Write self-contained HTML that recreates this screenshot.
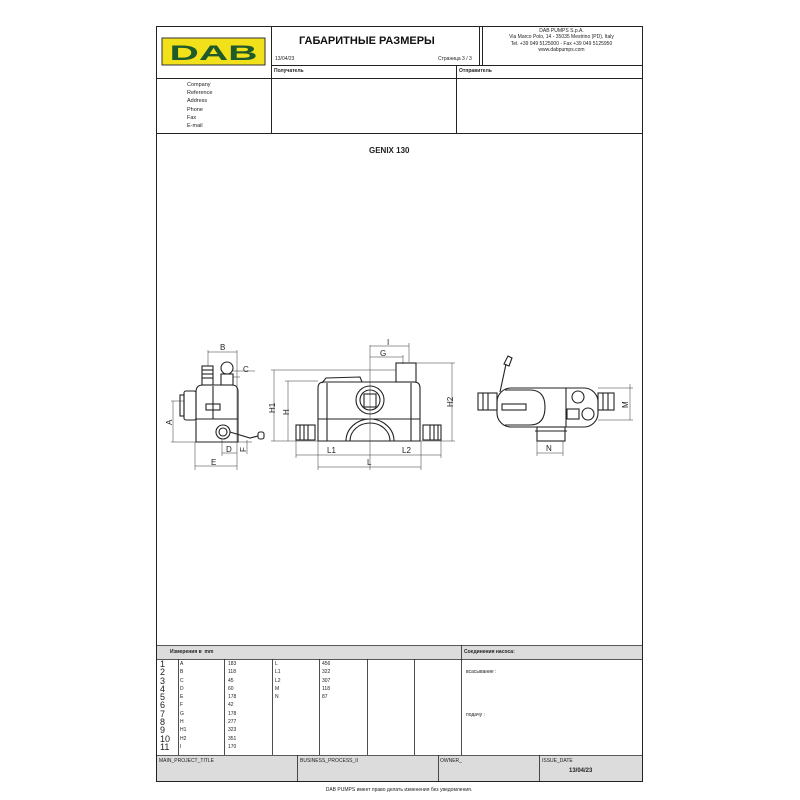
<!DOCTYPE html>
<html><head><meta charset="utf-8"><style>
body{margin:0;background:#fff;width:800px;height:800px;position:relative;font-family:"Liberation Sans","Noto Sans CJK SC",sans-serif;overflow:hidden}
.t{position:absolute;font-size:6px;color:#222;white-space:nowrap}
</style></head><body>
<svg width="800" height="800" style="position:absolute;left:0;top:0" font-family="Liberation Sans, sans-serif">
<g fill="none" stroke="#222" stroke-width="1">
<rect x="156.5" y="26.5" width="486" height="755"/>
<line x1="271.5" y1="26" x2="271.5" y2="133"/>
<line x1="156" y1="78.5" x2="642" y2="78.5"/>
<line x1="271" y1="65.5" x2="642" y2="65.5"/>
<line x1="479.5" y1="26" x2="479.5" y2="65"/>
<line x1="482.5" y1="26" x2="482.5" y2="65"/>
<line x1="456.5" y1="65" x2="456.5" y2="133"/>
<line x1="156" y1="133.5" x2="642" y2="133.5"/>
</g>
<rect x="157" y="646" width="485" height="13" fill="#dcdcdc"/>
<rect x="157" y="756" width="485" height="25" fill="#dcdcdc"/>
<g fill="none" stroke="#222" stroke-width="0.8">
<line x1="156" y1="645.5" x2="642" y2="645.5"/>
<line x1="156" y1="659.5" x2="642" y2="659.5"/>
<line x1="156" y1="755.5" x2="642" y2="755.5"/>
<line x1="461.5" y1="645" x2="461.5" y2="755"/>
<line x1="178.5" y1="659" x2="178.5" y2="755"/>
<line x1="224.5" y1="659" x2="224.5" y2="755"/>
<line x1="272.5" y1="659" x2="272.5" y2="755"/>
<line x1="319.5" y1="659" x2="319.5" y2="755"/>
<line x1="367.5" y1="659" x2="367.5" y2="755"/>
<line x1="414.5" y1="659" x2="414.5" y2="755"/>
<line x1="297.5" y1="755" x2="297.5" y2="781"/>
<line x1="438.5" y1="755" x2="438.5" y2="781"/>
<line x1="539.5" y1="755" x2="539.5" y2="781"/>
</g>
<!-- logo -->
<rect x="162" y="38" width="103" height="27" fill="#f2e01a" stroke="#333" stroke-width="1"/>
<text x="213.5" y="60" font-size="21" font-weight="bold" fill="#1e5a2a" text-anchor="middle" textLength="88" lengthAdjust="spacingAndGlyphs">DAB</text>

<!-- drawings -->
<g fill="none" stroke="#222" stroke-width="1.1">
<!-- left view -->
<path d="M196 442 L196 392 Q196 385 203 385 L232 385 Q238 385 238 392 L238 442 Z"/>
<line x1="196" y1="419" x2="238" y2="419"/>
<rect x="184" y="391" width="12" height="29" rx="2"/>
<rect x="180" y="395" width="4" height="21"/>
<rect x="202" y="366" width="11" height="19"/>
<line x1="202" y1="370" x2="213" y2="370"/><line x1="202" y1="374" x2="213" y2="374"/><line x1="202" y1="378" x2="213" y2="378"/>
<circle cx="227" cy="368" r="6"/>
<rect x="221" y="374" width="12" height="11"/>
<circle cx="223" cy="432" r="7"/><circle cx="223" cy="432" r="4"/>
<path d="M230 432 L250 438 L258 436"/><rect x="258" y="432" width="6" height="7" rx="2"/>
<line x1="213" y1="386" x2="213" y2="419"/>
<rect x="206" y="404" width="14" height="6"/>
<!-- front view -->
<path d="M318 441 L318 388 Q318 382 324 382 L414 382 Q420 382 420 388 L420 441 Z"/>
<line x1="318" y1="419" x2="420" y2="419"/>
<path d="M346 441 A24 22 0 0 1 394 441"/>
<path d="M350 441 A20 18 0 0 1 390 441"/>
<circle cx="370" cy="400" r="14"/><circle cx="370" cy="400" r="10"/>
<rect x="364" y="394" width="12" height="13"/>
<rect x="396" y="363" width="20" height="19"/>
<rect x="296" y="425" width="19" height="15"/><rect x="423" y="425" width="18" height="15"/>
<line x1="300" y1="425" x2="300" y2="440"/><line x1="304" y1="425" x2="304" y2="440"/><line x1="308" y1="425" x2="308" y2="440"/>
<line x1="430" y1="425" x2="430" y2="440"/><line x1="434" y1="425" x2="434" y2="440"/><line x1="438" y1="425" x2="438" y2="440"/>
<line x1="327" y1="383" x2="327" y2="441"/><line x1="411" y1="383" x2="411" y2="441"/>
<path d="M322 383 L326 378 L360 377 L362 382"/>
<!-- top view -->
<rect x="497" y="388" width="101" height="39" rx="14"/>
<path d="M505 390 L530 390 Q545 390 545 407 Q545 425 530 425 L505 425"/>
<line x1="566" y1="388" x2="566" y2="427"/>
<rect x="478" y="393" width="19" height="17"/><rect x="598" y="393" width="16" height="17"/>
<line x1="483" y1="393" x2="483" y2="410"/><line x1="488" y1="393" x2="488" y2="410"/>
<line x1="603" y1="393" x2="603" y2="410"/><line x1="608" y1="393" x2="608" y2="410"/>
<rect x="537" y="427" width="28" height="14"/>
<line x1="535" y1="431" x2="567" y2="431"/>
<circle cx="578" cy="397" r="6"/><circle cx="588" cy="414" r="6"/>
<rect x="567" y="409" width="12" height="10"/>
<rect x="502" y="404" width="24" height="6"/>
<path d="M500 392 Q503 378 506 364"/>
<path d="M504 364 L508 356 L512 358 L509 366 Z"/>
</g>
<!-- dimension lines -->
<g fill="none" stroke="#333" stroke-width="0.5">
<line x1="370" y1="345" x2="370" y2="470"/>
<line x1="370" y1="346" x2="409" y2="346"/><line x1="409" y1="343" x2="409" y2="362"/>
<line x1="370" y1="357" x2="403" y2="357"/><line x1="403" y1="355" x2="403" y2="364"/>
<line x1="274" y1="370" x2="274" y2="441"/><line x1="271" y1="370" x2="396" y2="370"/>
<line x1="288" y1="381" x2="288" y2="441"/><line x1="285" y1="381" x2="318" y2="381"/>
<line x1="271" y1="441" x2="318" y2="441"/>
<line x1="452" y1="363" x2="452" y2="441"/><line x1="416" y1="363" x2="455" y2="363"/><line x1="420" y1="441" x2="455" y2="441"/>
<line x1="296" y1="455" x2="441" y2="455"/><line x1="296" y1="440" x2="296" y2="458"/><line x1="441" y1="440" x2="441" y2="458"/>
<line x1="318" y1="467" x2="421" y2="467"/><line x1="318" y1="441" x2="318" y2="470"/><line x1="421" y1="441" x2="421" y2="470"/>
<line x1="208" y1="352" x2="237" y2="352"/><line x1="208" y1="350" x2="208" y2="366"/><line x1="237" y1="350" x2="237" y2="470"/>
<line x1="233" y1="371" x2="255" y2="371"/><line x1="233" y1="377" x2="240" y2="377"/>
<line x1="173" y1="401" x2="173" y2="442"/><line x1="171" y1="401" x2="184" y2="401"/><line x1="171" y1="442" x2="196" y2="442"/>
<line x1="195" y1="442" x2="195" y2="470"/><line x1="195" y1="466" x2="237" y2="466"/>
<line x1="222" y1="453" x2="237" y2="453"/><line x1="222" y1="440" x2="222" y2="456"/>
<line x1="247" y1="440" x2="247" y2="454"/><line x1="238" y1="442" x2="252" y2="442"/>
<line x1="630" y1="384" x2="630" y2="420"/><line x1="598" y1="388" x2="633" y2="388"/><line x1="598" y1="420" x2="633" y2="420"/>
<line x1="537" y1="441" x2="537" y2="456"/><line x1="563" y1="441" x2="563" y2="456"/><line x1="537" y1="453" x2="563" y2="453"/>
</g>
<g font-size="8" fill="#222">
<text x="387" y="345">I</text><text x="380" y="356">G</text>
<text x="220" y="350">B</text><text x="243" y="372">C</text>
<text x="226" y="452">D</text><text x="211" y="465">E</text>
<text x="327" y="453">L1</text><text x="402" y="453">L2</text><text x="367" y="465">L</text>
<text x="546" y="451">N</text>
<text transform="translate(172,425) rotate(-90)">A</text>
<text transform="translate(275,413) rotate(-90)">H1</text>
<text transform="translate(289,415) rotate(-90)">H</text>
<text transform="translate(453,407) rotate(-90)">H2</text>
<text transform="translate(628,408) rotate(-90)">M</text>
<text transform="translate(246,452) rotate(-90)">F</text>
</g>
</svg>
<div class="t" style="left:299px;top:35px;font-size:11px;font-weight:bold;color:#111">ГАБАРИТНЫЕ РАЗМЕРЫ</div>
<div class="t" style="left:275px;top:56px;font-size:5px">13/04/23</div>
<div class="t" style="left:438px;top:56px;font-size:5px">Страница 3 / 3</div>
<div class="t" style="left:483px;top:28px;width:157px;text-align:center;font-size:5px;line-height:6.3px">DAB PUMPS S.p.A.<br>Via Marco Polo, 14 - 35035 Mestrino (PD), Italy<br>Tel. +39 049 5125000 - Fax +39 049 5125950<br>www.dabpumps.com</div>
<div class="t" style="left:274px;top:68px;font-size:5px;font-weight:bold">Получатель</div>
<div class="t" style="left:459px;top:68px;font-size:5px;font-weight:bold">Отправитель</div>
<div class="t" style="left:187px;top:81px;font-size:5.5px;line-height:8.2px">Company<br>Reference<br>Address<br>Phone<br>Fax<br>E-mail</div>
<div class="t" style="left:369px;top:146px;font-size:8px;font-weight:bold">GENIX 130</div>
<div class="t" style="left:170px;top:649px;font-size:5px;font-weight:bold">Измерения в&nbsp; mm</div>
<div class="t" style="left:464px;top:649px;font-size:5px;font-weight:bold">Соединения насоса:</div>
<div class="t" style="left:160px;top:660px;font-size:9px;line-height:8.3px">1<br>2<br>3<br>4<br>5<br>6<br>7<br>8<br>9<br>10<br>11</div>
<div class="t" style="left:180px;top:660px;font-size:5px;line-height:8.3px">A<br>B<br>C<br>D<br>E<br>F<br>G<br>H<br>H1<br>H2<br>I</div>
<div class="t" style="left:228px;top:660px;font-size:5px;line-height:8.3px">183<br>118<br>45<br>60<br>178<br>42<br>178<br>277<br>323<br>351<br>170</div>
<div class="t" style="left:275px;top:660px;font-size:5px;line-height:8.3px">L<br>L1<br>L2<br>M<br>N</div>
<div class="t" style="left:322px;top:660px;font-size:5px;line-height:8.3px">456<br>322<br>307<br>118<br>87</div>
<div class="t" style="left:466px;top:669px;font-size:5px">всасывание :</div>
<div class="t" style="left:466px;top:712px;font-size:5px">подачу :</div>
<div class="t" style="left:159px;top:758px;font-size:5px">MAIN_PROJECT_TITLE</div>
<div class="t" style="left:300px;top:758px;font-size:5px">BUSINESS_PROCESS_II</div>
<div class="t" style="left:440px;top:758px;font-size:5px">OWNER_</div>
<div class="t" style="left:542px;top:758px;font-size:5px">ISSUE_DATE</div>
<div class="t" style="left:569px;top:768px;font-size:6px;font-weight:bold">13/04/23</div>
<div class="t" style="left:156px;top:787px;width:486px;text-align:center;font-size:5px">DAB PUMPS имеет право делать изменения без уведомления.</div>
</body></html>
